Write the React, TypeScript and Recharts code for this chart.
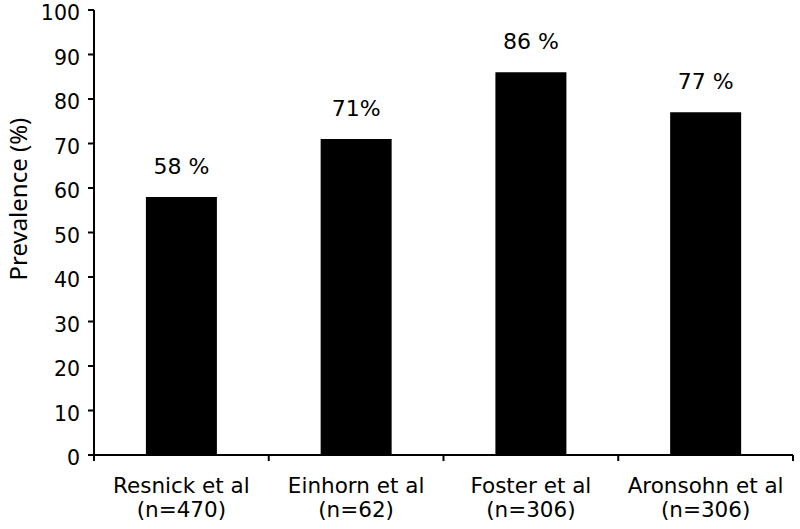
import { BarChart, Bar, XAxis, YAxis, LabelList } from "recharts";

const studies = ["Resnick et al", "Einhorn et al", "Foster et al", "Aronsohn et al"];
const sampleSizes = ["(n=470)", "(n=62)", "(n=306)", "(n=306)"];
const prevalence = [58, 71, 86, 77];
const valueLabels = ["58 %", "71%", "86 %", "77 %"];
const yTicks = [0, 10, 20, 30, 40, 50, 60, 70, 80, 90, 100];

const data = studies.map((study, i) => ({
  study,
  n: sampleSizes[i],
  prevalence: prevalence[i],
  label: valueLabels[i],
}));

const font = "Verdana, 'DejaVu Sans', sans-serif";

function StudyTick(props: any) {
  const { x, y, payload, index } = props;
  const half = payload.offset || 0;
  const row = data[index];
  return (
    <g>
      <line x1={x - half} x2={x - half} y1={y} y2={y + 6} stroke="#000" strokeWidth={2} />
      {index === data.length - 1 && (
        <line x1={x + half} x2={x + half} y1={y} y2={y + 6} stroke="#000" strokeWidth={2} />
      )}
      <text x={x} y={y + 38} textAnchor="middle" fontSize={21.5} fontFamily={font} fill="#000">
        {row ? row.study : payload.value}
      </text>
      <text x={x} y={y + 62} textAnchor="middle" fontSize={21.5} fontFamily={font} fill="#000">
        {row ? row.n : ""}
      </text>
    </g>
  );
}

function ValueTick(props: any) {
  const { x, y, payload } = props;
  return (
    <text x={x} y={y + 3} textAnchor="end" dominantBaseline="central" fontSize={20.5} fontFamily={font} fill="#000">
      {payload.value}
    </text>
  );
}

function AxisTitle(props: any) {
  const { viewBox } = props;
  const cy = viewBox.y + viewBox.height * 0.425;
  return (
    <text
      x={17}
      y={cy}
      transform={`rotate(-90, 17, ${cy})`}
      textAnchor="middle"
      dominantBaseline="central"
      fontSize={24}
      fontFamily="'Noto Sans', sans-serif"
      fill="#000"
    >
      Prevalence (%)
    </text>
  );
}

export default function App() {
  return (
    <div style={{ position: "absolute", left: 0, top: 0, width: 800, height: 529, background: "#fff" }}>
      <BarChart
        width={800}
        height={529}
        data={data}
        margin={{ top: 10, right: 7, left: 0, bottom: 0 }}
        barCategoryGap="29.7%"
      >
        <XAxis
          dataKey="study"
          height={74}
          axisLine={{ stroke: "#000", strokeWidth: 2 }}
          tickLine={false}
          tickSize={0}
          tickMargin={0}
          interval={0}
          tick={<StudyTick />}
        />
        <YAxis
          width={94}
          domain={[0, 100]}
          ticks={yTicks}
          interval={0}
          axisLine={{ stroke: "#000", strokeWidth: 2 }}
          tickLine={{ stroke: "#000", strokeWidth: 2 }}
          tickSize={6}
          tickMargin={8}
          tick={<ValueTick />}
          label={<AxisTitle />}
        />
        <Bar dataKey="prevalence" fill="#000" isAnimationActive={false}>
          <LabelList
            dataKey="label"
            position="top"
            offset={23}
            fontSize={22}
            fontFamily={font}
            fill="#000"
          />
        </Bar>
      </BarChart>
    </div>
  );
}
